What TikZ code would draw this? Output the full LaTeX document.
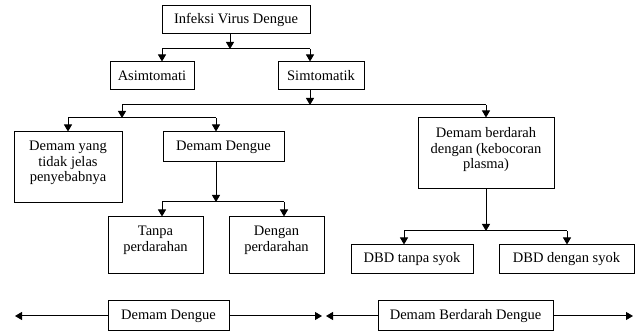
\documentclass[tikz,border=0pt]{standalone}
\usepackage{fontspec}
\setmainfont{Liberation Serif}
\usetikzlibrary{arrows.meta}
\newcommand\topbox[3]{\parbox[c][#2][t]{#1}{\centering\baselineskip=15.5pt\vspace*{9.5pt}#3}}
\begin{document}
\begin{tikzpicture}[x=1pt,y=-1pt,
  bx/.style={draw=black, line width=1pt, inner sep=0pt, font=\fontsize{14.5pt}{15.5pt}\selectfont, align=center},
  ln/.style={draw=black, line width=1pt},
  arr/.style={ln, -{Triangle[length=7pt,width=8pt]}}]
\useasboundingbox (0,0) rectangle (638,331);
\clip (0,0) rectangle (638,331);
% boxes
\node[bx, minimum width=148pt, minimum height=28pt] (inf) at (236,20) {Infeksi Virus Dengue};
\node[bx, minimum width=84pt, minimum height=28pt] (asim) at (152,76) {Asimtomati};
\node[bx, minimum width=86pt, minimum height=28pt] (simt) at (321,76) {Simtomatik};
\node[bx] (dyang) at (68,167.5) {\topbox{108pt}{71pt}{Demam yang\\tidak jelas\\penyebabnya}};
\node[bx, minimum width=121pt, minimum height=30pt] (ddeng) at (223.5,147) {Demam Dengue};
\node[bx] (dbd) at (486,153.5) {\topbox{136pt}{71pt}{Demam berdarah\\dengan (kebocoran\\plasma)}};
\node[bx] (tanpa) at (155.5,245.5) {\topbox{95pt}{57pt}{Tanpa\\perdarahan}};
\node[bx] (dengan) at (276.5,245.5) {\topbox{95pt}{57pt}{Dengan\\perdarahan}};
\node[bx, minimum width=122pt, minimum height=29pt] (dbdt) at (412,259.5) {DBD tanpa syok};
\node[bx, minimum width=135pt, minimum height=29pt] (dbdd) at (566.5,259.5) {DBD dengan syok};
\node[bx, minimum width=121pt, minimum height=30pt] (bdd) at (168.5,316) {Demam Dengue};
\node[bx, minimum width=175pt, minimum height=30pt] (bdbd) at (465.5,316) {Demam Berdarah Dengue};
% level 1
\coordinate (m1) at (230,49);
\coordinate (h1l) at (162,49);
\coordinate (h1r) at (310,49);
\draw[arr] (m1 |- inf.south) -- (m1);
\draw[ln] (h1l) -- (h1r);
\draw[arr] (h1l) -- (h1l |- asim.north);
\draw[arr] (h1r) -- (h1r |- simt.north);
% level 2
\coordinate (m2) at (310,105);
\coordinate (h2l) at (122,105);
\coordinate (h2r) at (486,105);
\draw[arr] (m2 |- simt.south) -- (m2);
\draw[ln] (h2l) -- (h2r);
\draw[arr] (h2r) -- (h2r |- dbd.north);
\coordinate (m3) at (122,118);
\coordinate (h3l) at (68,118);
\coordinate (h3r) at (216,118);
\draw[arr] (h2l) -- (m3);
\draw[ln] (h3l) -- (h3r);
\draw[arr] (h3l) -- (h3l |- dyang.north);
\draw[arr] (h3r) -- (h3r |- ddeng.north);
% level 3 left
\coordinate (m4) at (216,202);
\coordinate (h4l) at (162,202);
\coordinate (h4r) at (284,202);
\draw[arr] (m4 |- ddeng.south) -- (m4);
\draw[ln] (h4l) -- (h4r);
\draw[arr] (h4l) -- (h4l |- tanpa.north);
\draw[arr] (h4r) -- (h4r |- dengan.north);
% level 3 right
\coordinate (m5) at (486,231);
\coordinate (h5l) at (404,231);
\coordinate (h5r) at (567,231);
\draw[arr] (m5 |- dbd.south) -- (m5);
\draw[ln] (h5l) -- (h5r);
\draw[arr] (h5l) -- (h5l |- dbdt.north);
\draw[arr] (h5r) -- (h5r |- dbdd.north);
% bottom
\coordinate (bl) at (15,316);
\coordinate (bm1) at (322,316);
\coordinate (bm2) at (326,316);
\coordinate (br) at (633,316);
\draw[arr] (bdd.west) -- (bl);
\draw[arr] (bdd.east) -- (bm1);
\draw[arr] (bdbd.west) -- (bm2);
\draw[arr] (bdbd.east) -- (br);
\end{tikzpicture}
\end{document}
